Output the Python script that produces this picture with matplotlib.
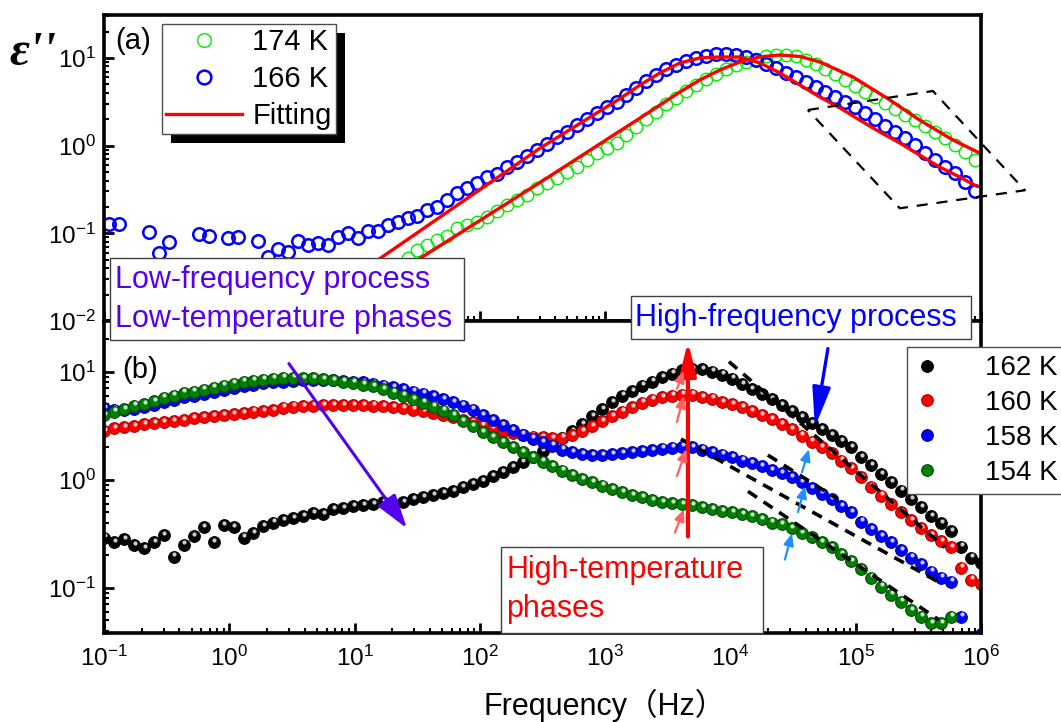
import matplotlib
matplotlib.use('Agg')
import matplotlib.pyplot as plt
import numpy as np
from matplotlib.patches import Rectangle
from matplotlib.ticker import LogLocator, NullFormatter
from matplotlib.transforms import IdentityTransform, offset_copy
from matplotlib.legend_handler import HandlerTuple

plt.rcParams['font.family'] = ['Liberation Sans', 'DejaVu Sans']
plt.rcParams['mathtext.fontset'] = 'custom'
plt.rcParams['mathtext.rm'] = 'Liberation Sans'
plt.rcParams['mathtext.it'] = 'Liberation Sans:italic'

W, H = 1061, 722


def fx(x):
    return x / W


def fy(y):
    return 1 - y / H


nan = np.nan

# ---------------- panel (a): 174 K / 166 K with fits ----------------
freq_a = np.logspace(-0.96, 5.95, 88)
eps_166 = [0.127, 0.127, nan, nan, 0.103, 0.059, 0.079, nan, nan, 0.0975,
           0.0925, nan, 0.0877, 0.090, nan, 0.081, 0.053, 0.067, 0.061, 0.081,
           0.073, 0.077, 0.073, 0.090, 0.10, 0.0877, 0.105, 0.105, 0.123, 0.134,
           0.148, 0.156, 0.183, 0.198, 0.238, 0.286, 0.327, 0.373, 0.436, 0.472,
           0.567, 0.647, 0.758, 0.889, 1.04, 1.25, 1.43, 1.71, 2.01, 2.35,
           2.75, 3.14, 3.78, 4.5, 5.4, 6.4, 7.4, 8.4, 9.3, 10.0,
           10.6, 11.0, 11.1, 10.9, 10.3, 9.5, 8.5, 7.6, 6.8, 6.0,
           5.3, 4.67, 4.09, 3.58, 3.14, 2.75, 2.35, 2.01, 1.67, 1.43,
           1.22, 1.01, 0.82, 0.68, 0.567, 0.485, 0.383, 0.302]
eps_174 = [nan] * 30 + [
           0.052, 0.064, 0.073, 0.083, 0.0925, 0.114, 0.123, 0.134, 0.152, 0.178,
           0.209, 0.238, 0.272, 0.327, 0.373, 0.425, 0.498, 0.567, 0.683, 0.82,
           0.935, 1.07, 1.33, 1.62, 2.0, 2.45, 2.95, 3.5, 4.2, 4.9,
           5.75, 6.6, 7.5, 8.3, 9.0, 9.8, 10.4, 10.8, 10.9, 10.5,
           9.6, 8.5, 7.5, 6.5, 5.6, 4.8, 4.1, 3.55, 3.05, 2.65,
           2.25, 1.95, 1.67, 1.43, 1.22, 1.02, 0.85, 0.68]

fit166_f = [16.0, 302, 1312, 1897, 2735, 3954, 5702, 8241, 11912, 17179, 24831,
            35892, 51761, 74817, 108143, 155955, 225424, 325087, 469894, 679204, 926830]
fit166_e = [0.0518, 0.935, 3.44, 4.91, 6.75, 8.77, 10.0, 10.26, 10.26, 8.77, 6.75,
            4.91, 3.58, 2.69, 1.95, 1.43, 1.07, 0.778, 0.568, 0.437, 0.344]
fit174_f = [33.3, 302, 1312, 1897, 2735, 3954, 5702, 8241, 11912, 17179, 24831,
            35892, 51761, 95060, 177400, 325087, 597000, 944000]
fit174_e = [0.0518, 0.38, 1.47, 2.06, 2.90, 4.09, 5.61, 7.29, 9.0, 10.3, 10.8,
            10.4, 9.0, 6.07, 3.49, 1.95, 1.16, 0.843]

# dashed parallelogram (Hz, eps)
box_f = [41500, 413000, 2.24e6, 225000, 41500]
box_e = [2.55, 4.2, 0.31, 0.193, 2.55]

# ---------------- panel (b): 162 / 160 / 158 / 154 K ----------------
freq_b = np.logspace(-1, 6, 89)
eps_162 = [0.29, 0.262, 0.28, 0.246, 0.231, 0.262, 0.305, 0.194, 0.251, 0.298,
           0.361, 0.262, 0.378, 0.361, 0.29, 0.318, 0.369, 0.40, 0.42, 0.438,
           0.457, 0.488, 0.477, 0.532, 0.543, 0.567, 0.579, 0.591, 0.618, 0.60,
           0.618, 0.659, 0.687, 0.717, 0.749, 0.782, 0.851, 0.908, 0.968, 1.08,
           1.175, 1.31, 1.46, 1.62, 1.84, 2.10, 2.43, 2.82, 3.28, 3.90,
           4.53, 5.25, 5.98, 6.65, 7.4, 8.07, 8.9, 9.6, 10.3, 10.6,
           10.5, 10.0, 9.4, 8.6, 7.7, 6.9, 6.2, 5.6, 4.93, 4.34,
           3.81, 3.35, 2.95, 2.59, 2.28, 2.0, 1.62, 1.36, 1.13, 0.95,
           0.79, 0.66, 0.555, 0.457, 0.394, 0.332, 0.24, 0.19, 0.171]
eps_160 = [2.82, 3.01, 3.08, 3.15, 3.28, 3.35, 3.43, 3.50, 3.58, 3.73,
           3.81, 3.90, 3.98, 4.06, 4.16, 4.25, 4.34, 4.43, 4.63, 4.75,
           4.80, 4.85, 4.88, 4.92, 4.93, 4.93, 4.90, 4.85, 4.78, 4.70,
           4.60, 4.45, 4.30, 4.12, 3.95, 3.78, 3.6, 3.4, 3.2, 3.0,
           2.85, 2.7, 2.58, 2.50, 2.47, 2.43, 2.45, 2.6, 2.82, 3.15,
           3.5, 3.90, 4.25, 4.72, 5.15, 5.49, 5.85, 5.98, 6.11, 6.11,
           5.85, 5.61, 5.26, 5.04, 4.72, 4.34, 3.98, 3.66, 3.28, 2.95,
           2.55, 2.25, 2.0, 1.75, 1.50, 1.27, 1.05, 0.86, 0.71, 0.59,
           0.50, 0.42, 0.354, 0.305, 0.268, 0.236, 0.153, 0.119, 0.107]
eps_158 = [4.6, 4.45, 4.45, 4.55, 4.7, 4.95, 5.25, 5.5, 5.85, 6.0,
           6.25, 6.55, 6.8, 7.1, 7.4, 7.6, 7.8, 7.95, 8.1, 8.2,
           8.3, 8.35, 8.35, 8.3, 8.2, 8.1, 8.0, 7.75, 7.45, 7.15,
           6.85, 6.55, 6.25, 5.9, 5.55, 5.2, 4.85, 4.45, 3.95, 3.55,
           3.2, 2.88, 2.62, 2.40, 2.23, 2.06, 1.90, 1.80, 1.73, 1.69,
           1.69, 1.72, 1.76, 1.80, 1.84, 1.88, 1.94, 1.98, 2.03, 2.0,
           1.9, 1.80, 1.70, 1.62, 1.50, 1.42, 1.34, 1.23, 1.15, 1.05,
           0.95, 0.84, 0.74, 0.66, 0.57, 0.50, 0.41, 0.35, 0.30, 0.262,
           0.221, 0.19, 0.164, 0.141, 0.124, 0.114, 0.054, 0.03, 0.037]
eps_154 = [3.98, 4.25, 4.53, 4.83, 5.04, 5.37, 5.73, 5.98, 6.38, 6.52,
           6.81, 7.10, 7.41, 7.73, 8.07, 8.25, 8.43, 8.61, 8.80, 8.8,
           8.75, 8.7, 8.55, 8.35, 8.1, 7.9, 7.6, 7.3, 6.9, 6.4,
           6.0, 5.55, 5.15, 4.75, 4.35, 3.95, 3.5, 3.15, 2.77, 2.48,
           2.23, 2.0, 1.80, 1.62, 1.47, 1.34, 1.21, 1.10, 1.01, 0.95,
           0.88, 0.82, 0.77, 0.72, 0.69, 0.65, 0.62, 0.61, 0.59, 0.58,
           0.555, 0.532, 0.51, 0.50, 0.477, 0.457, 0.43, 0.40, 0.386, 0.354,
           0.318, 0.292, 0.262, 0.236, 0.203, 0.175, 0.148, 0.124, 0.102, 0.086,
           0.074, 0.062, 0.054, 0.047, 0.047, 0.054, nan, nan, nan]

series_b = [('162 K', eps_162, 'black', '#000000'),
            ('160 K', eps_160, '#ff0000', '#b00000'),
            ('158 K', eps_158, '#0000ff', '#0000a0'),
            ('154 K', eps_154, '#008000', '#004a00')]

# dashed power-law lines in (b): (f0, f1), (e0, e1)
dash_f = [(9730, 515000), (4030, 497000), (19900, 72100), (13800, 461000)]
dash_e = [(12.4, 0.236), (2.38, 0.107), (1.69, 0.659), (0.78, 0.0504)]

fig = plt.figure(figsize=(W / 100, H / 100), dpi=100)
ax1 = fig.add_axes([fx(104), fy(321), fx(981) - fx(104), fy(15) - fy(321)])
ax2 = fig.add_axes([fx(104), fy(633), fx(981) - fx(104), fy(321) - fy(633)])

# panel (a)
ax1.plot(freq_a, eps_174, 'o', ms=9, mfc='none', mec='#00ee00', mew=1.0, label='174 K')
ax1.plot(freq_a, eps_166, 'o', ms=9, mfc='none', mec='#0000ff', mew=1.8, label='166 K')
ax1.plot(fit174_f, fit174_e, '-', color='#ff0000', lw=2.4, label='Fitting', zorder=3)
ax1.plot(fit166_f, fit166_e, '-', color='#ff0000', lw=2.4, zorder=3)
ax1.plot(box_f, box_e, color='black', lw=1.6, ls=(0, (5, 4)), clip_on=False, zorder=4)

# panel (b): shaded spheres
handles = []
for lab, e, col, edge in series_b:
    m, = ax2.plot(freq_b, e, 'o', ms=8.4, mfc=col, mec=edge, mew=0.8)
    hl_tr = offset_copy(ax2.transData, fig=fig, x=0.5, y=1.7, units='points')
    h, = ax2.plot(freq_b, e, 'o', ms=3.0, mfc='white', mec='none', alpha=0.8,
                  transform=hl_tr)
    handles.append((m, h))

for (f0, f1), (e0, e1) in zip(dash_f, dash_e):
    ax2.plot([f0, f1], [e0, e1], color='black', lw=2.6, ls=(0, (3.0, 2.2)), zorder=4)

for ax in (ax1, ax2):
    ax.set_xscale('log')
    ax.set_yscale('log')
    ax.set_xlim(0.1, 1e6)
    ax.xaxis.set_major_locator(LogLocator(base=10, numticks=20))
    ax.xaxis.set_minor_locator(LogLocator(base=10, subs=np.arange(2, 10), numticks=20))
    ax.yaxis.set_minor_locator(LogLocator(base=10, subs=np.arange(2, 10), numticks=20))
    ax.xaxis.set_minor_formatter(NullFormatter())
    ax.yaxis.set_minor_formatter(NullFormatter())
    ax.tick_params(which='major', direction='in', length=7, width=2, labelsize=17.5, pad=6)
    ax.tick_params(which='minor', direction='in', length=3.5, width=1.5)
    for s in ax.spines.values():
        s.set_linewidth(2.6)
ax1.set_ylim(0.01, 10 ** 1.49)
ax2.set_ylim(10 ** -1.42, 10 ** 1.47)
ax1.tick_params(axis='x', labelbottom=False)
ax2.tick_params(axis='x', pad=9)

# legends
leg1 = ax1.legend(loc='upper left', bbox_to_anchor=(0.066, 0.971), borderaxespad=0,
                  fancybox=False, framealpha=1, fontsize=21, handlelength=2.6,
                  handletextpad=0.35, labelspacing=0.3, borderpad=0.15, markerscale=1.1)
leg1.get_frame().set_edgecolor('0.3')
leg1.get_frame().set_linewidth(1)

leg2 = ax2.legend(handles, [s[0] for s in series_b], loc='upper left',
                  bbox_to_anchor=(0.9156, 0.9167), borderaxespad=0, fancybox=False,
                  framealpha=1, fontsize=20, handlelength=2.0, handletextpad=0.5,
                  labelspacing=0.32, borderpad=0.3,
                  handler_map={tuple: HandlerTuple(ndivide=None)})
leg2.get_frame().set_edgecolor('0.3')
leg2.get_frame().set_linewidth(1)

# arrows in (b)
def arrow(ax, tail, tip, color, lw, hl, hw):
    ax.annotate('', xy=tip, xytext=tail, annotation_clip=False,
                arrowprops=dict(arrowstyle=f'-|>,head_length={hl},head_width={hw}',
                                color=color, lw=lw, shrinkA=0, shrinkB=0,
                                mutation_scale=1), zorder=6)

arrow(ax2, (2.99, 11.9), (26.2, 0.354), '#5500ee', 2.2, 21, 6.5)
arrow(ax2, (4580, 0.298), (4580, 19.0), '#ff0000', 3.0, 20, 5)
arrow(ax2, (60000, 16.4), (47200, 3.07), '#0000ff', 2.4, 24, 5.5)
for tail, tip in [((3740, 6.95), (4260, 10.2)), ((3740, 3.43), (4260, 5.98)),
                  ((3740, 1.08), (4460, 1.92)), ((3610, 0.325), (4260, 0.532))]:
    arrow(ax2, tail, tip, '#ff6060', 1.6, 7, 3)
for tail, tip in [((37200, 1.17), (42400, 1.92)), ((34600, 0.50), (39400, 0.87)),
                  ((27200, 0.182), (31000, 0.318))]:
    arrow(ax2, tail, tip, '#1e8fff', 1.6, 7, 3)

# text boxes (figure level, on top of both panels)
def textbox(x0, y0, x1, y1):
    fig.add_artist(Rectangle((fx(x0), fy(y1)), fx(x1) - fx(x0), fy(y0) - fy(y1),
                             facecolor='white', edgecolor='0.25', lw=1, zorder=10))

textbox(110, 258, 464, 340)
fig.text(fx(115), fy(288), 'Low-frequency process', color='#5500ee', fontsize=22,
         va='baseline', zorder=11)
fig.text(fx(115), fy(327), 'Low-temperature phases', color='#5500ee', fontsize=22,
         va='baseline', zorder=11)
textbox(631, 296, 971, 339)
fig.text(fx(635), fy(326), 'High-frequency process', color='#0000ff', fontsize=22,
         va='baseline', zorder=11)
textbox(501, 547, 763, 633)
fig.text(fx(506), fy(578), 'High-temperature', color='#ff0000', fontsize=22,
         va='baseline', zorder=11)
fig.text(fx(506), fy(617), 'phases', color='#ff0000', fontsize=22,
         va='baseline', zorder=11)

fig.text(fx(115), fy(41), '(a)', fontsize=21, va='center')
fig.text(fx(122), fy(370), '(b)', fontsize=21, va='center')
fig.text(fx(9), fy(65), "\u03b5''", fontsize=35, fontstyle='italic', fontweight='bold',
         family=['Liberation Serif', 'DejaVu Serif'], va='baseline')
fig.text(fx(484), fy(715), 'Frequency\uff08Hz\uff09', fontsize=22, va='baseline',
         family=['Liberation Sans', 'Noto Sans CJK SC'])

# black drop shadow for legend (a)
fig.canvas.draw()
bb = leg1.get_window_extent()
ax1.add_patch(Rectangle((bb.x0 + 9, bb.y0 - 9), bb.width, bb.height,
                        transform=IdentityTransform(), facecolor='black',
                        edgecolor='none', zorder=4.5, clip_on=False))

fig.savefig('out.png', dpi=100)
